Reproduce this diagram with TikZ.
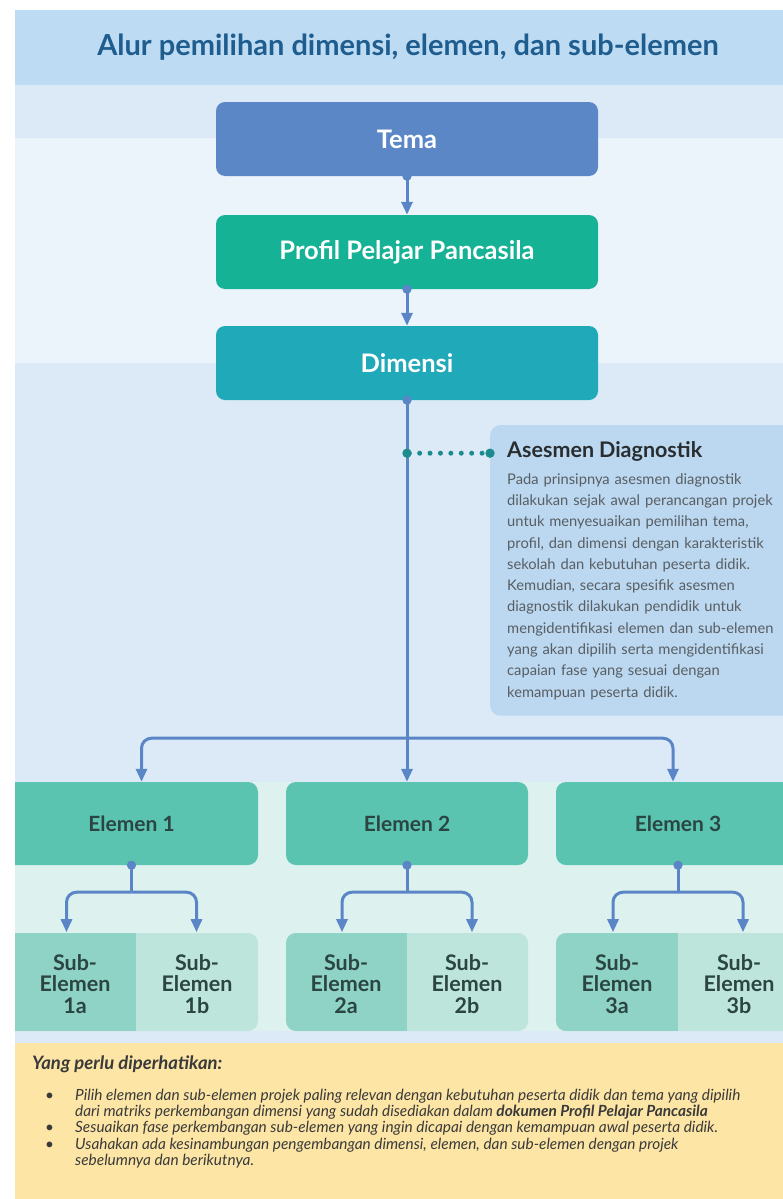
\documentclass[tikz,border=0pt]{standalone}
\usepackage{fontspec}
\setmainfont{Lato}
\usepackage{xcolor}
\usepackage{tikz}
\usetikzlibrary{arrows.meta,calc,positioning}

\definecolor{cTitleBand}{HTML}{BDDBF2}
\definecolor{cTitle}{HTML}{1F5D8F}
\definecolor{cBandA}{HTML}{DCEAF7}
\definecolor{cBandB}{HTML}{EBF4FB}
\definecolor{cMint}{HTML}{DDF1EE}
\definecolor{cNote}{HTML}{FCE5A5}
\definecolor{cTema}{HTML}{5B87C6}
\definecolor{cProfil}{HTML}{16B295}
\definecolor{cDimensi}{HTML}{20AAB9}
\definecolor{cLine}{HTML}{5A86C8}
\definecolor{cAses}{HTML}{BBD8F0}
\definecolor{cAsesTitle}{HTML}{2A2D30}
\definecolor{cAsesText}{HTML}{585E63}
\definecolor{cDots}{HTML}{1C8B8D}
\definecolor{cElemen}{HTML}{5AC4B1}
\definecolor{cElText}{HTML}{2B4542}
\definecolor{cSubA}{HTML}{8ED3C5}
\definecolor{cSubB}{HTML}{BEE5DC}
\definecolor{cNoteText}{HTML}{3A3A3A}

\tikzstyle{tsMainBox} = [
    rectangle,
    rounded corners=9pt,
    minimum width=382pt,
    minimum height=74pt,
    text=white,
    font=\bfseries\fontsize{25.5}{28}\selectfont
]
\tikzstyle{tsAses} = [
    rectangle,
    rounded corners=10pt,
    fill=cAses,
    text width=300pt,
    inner xsep=17pt,
    inner ysep=16pt,
    align=left,
    text=cAsesText,
    font=\fontsize{14.7}{21.3}\selectfont
]
\tikzstyle{tsElemen} = [
    rectangle,
    rounded corners=10pt,
    fill=cElemen,
    minimum height=83pt,
    text=cElText,
    font=\bfseries\fontsize{21}{24}\selectfont
]
\tikzstyle{tsSubText} = [
    align=center,
    text=cElText,
    font=\bfseries\fontsize{21.5}{21.5}\selectfont
]
\tikzset{tsGroup/.style={
    rectangle,
    rounded corners=10pt,
    fill=cSubB,
    minimum height=98pt,
    path picture={\fill[cSubA, sharp corners] (path picture bounding box.north west) rectangle ([xshift=#1]path picture bounding box.south west);}
}}
\tikzstyle{tsNote} = [
    align=left,
    inner sep=0pt,
    text=cNoteText,
    font=\itshape\fontsize{15.4}{16.3}\selectfont
]
\tikzstyle{tsLine} = [draw=cLine, line width=3pt]
\tikzstyle{tsArrow} = [tsLine, -{Triangle[length=13pt,width=11pt]}]
\tikzstyle{tsDotArrow} = [tsLine, {Circle[length=9pt]}-{Triangle[length=13pt,width=11pt]}, shorten <=-4.5pt]
\tikzstyle{tsDotLine} = [tsLine, {Circle[length=9pt]}-, shorten <=-4.5pt]
\tikzstyle{tsDotted} = [draw=cDots, line width=5pt, line cap=round, dash pattern=on 0pt off 10.4pt,
    {Circle[length=9pt]}-{Circle[length=9pt]}, shorten <=-4.5pt, shorten >=-4.5pt]

\begin{document}
\begin{tikzpicture}[x=1pt, y=-1pt]
    \useasboundingbox (0,0) rectangle (783,1199);
    \fill[white] (0,0) rectangle (783,1199);
    \clip (15,10) rectangle (783,1199);

    % background bands
    \fill[cTitleBand] (15,10) rectangle (783,85);
    \fill[cBandA] (15,85) rectangle (783,138);
    \fill[cBandB] (15,138) rectangle (783,363);
    \fill[cBandA] (15,363) rectangle (783,782);
    \fill[cMint] (15,782) rectangle (783,1031);
    \fill[cBandA] (15,1031) rectangle (783,1043);
    \fill[cNote] (15,1043) rectangle (783,1199);

    \node[text=cTitle, font=\bfseries\fontsize{29}{32}\selectfont] (title) at (408,47)
        {Alur pemilihan dimensi, elemen, dan sub-elemen};

    \node[tsMainBox, fill=cTema] (tema) at (407,139) {Tema};
    \node[tsMainBox, fill=cProfil] (profil) at (407,252) {Profil Pelajar Pancasila};
    \node[tsMainBox, fill=cDimensi] (dimensi) at (407,363) {Dimensi};

    \node[tsAses, anchor=north west] (asesmen) at (490,425) {%
        {\bfseries\fontsize{21.5}{21.3}\selectfont\color{cAsesTitle}Asesmen Diagnostik}\\[5.7pt]
        Pada prinsipnya asesmen diagnostik\\
        dilakukan sejak awal perancangan projek\\
        untuk menyesuaikan pemilihan tema,\\
        profil, dan dimensi dengan karakteristik\\
        sekolah dan kebutuhan peserta didik.\\
        Kemudian, secara spesifik asesmen\\
        diagnostik dilakukan pendidik untuk\\
        mengidentifikasi elemen dan sub-elemen\\
        yang akan dipilih serta mengidentifikasi\\
        capaian fase yang sesuai dengan\\
        kemampuan peserta didik.};

    \node[tsElemen, minimum width=253pt] (el1) at (131.5,823.5) {Elemen 1};
    \node[tsElemen, minimum width=242pt] (el2) at (407,823.5) {Elemen 2};
    \node[tsElemen, minimum width=244pt] (el3) at (678,823.5) {Elemen 3};

    \node[tsGroup=131pt, minimum width=253pt] (g1) at (131.5,982) {};
    \node[tsGroup=121pt, minimum width=242pt] (g2) at (407,982) {};
    \node[tsGroup=122pt, minimum width=244pt] (g3) at (678,982) {};

    \node[tsSubText] (s1a) at (75,984) {Sub-\\Elemen\\1a};
    \node[tsSubText] (s1b) at (197,984) {Sub-\\Elemen\\1b};
    \node[tsSubText] (s2a) at (346,984) {Sub-\\Elemen\\2a};
    \node[tsSubText] (s2b) at (467,984) {Sub-\\Elemen\\2b};
    \node[tsSubText] (s3a) at (617,984) {Sub-\\Elemen\\3a};
    \node[tsSubText] (s3b) at (739,984) {Sub-\\Elemen\\3b};

    % flow
    \draw[tsDotArrow] (tema.south) -- (profil.north);
    \draw[tsDotArrow] (profil.south) -- (dimensi.north);
    \draw[tsDotArrow] (dimensi.south) -- (el2.north);
    \coordinate (fork) at ($(dimensi.south)+(0,338)$);
    \draw[tsArrow, rounded corners=10pt] (fork) -| ([xshift=10pt]el1.north);
    \draw[tsArrow, rounded corners=10pt] (fork) -| ([xshift=-5pt]el3.north);

    \coordinate (tap) at ($(dimensi.south)+(0,53)$);
    \draw[tsDotted] (tap) -- (tap -| asesmen.west);

    \foreach \i in {1,2,3} {
        \draw[tsDotLine] (el\i.south) -- ++(0,27) coordinate (f\i);
        \draw[tsArrow, rounded corners=10pt] (f\i) -| ++(-65,40);
        \draw[tsArrow, rounded corners=10pt] (f\i) -| ++(65,40);
    }

    \node[tsNote, anchor=north west] (notes) at (32,1056) {%
        {\bfseries\fontsize{18.5}{16.3}\selectfont Yang perlu diperhatikan:}\\[14pt]
        \makebox[43pt][l]{\hspace*{13pt}\textbullet}Pilih elemen dan sub-elemen projek paling relevan dengan kebutuhan peserta didik dan tema yang dipilih\\
        \hspace*{43pt}dari matriks perkembangan dimensi yang sudah disediakan dalam \textbf{dokumen Profil Pelajar Pancasila}\\
        \makebox[43pt][l]{\hspace*{13pt}\textbullet}Sesuaikan fase perkembangan sub-elemen yang ingin dicapai dengan kemampuan awal peserta didik.\\
        \makebox[43pt][l]{\hspace*{13pt}\textbullet}Usahakan ada kesinambungan pengembangan dimensi, elemen, dan sub-elemen dengan projek\\
        \hspace*{43pt}sebelumnya dan berikutnya.};
\end{tikzpicture}
\end{document}
